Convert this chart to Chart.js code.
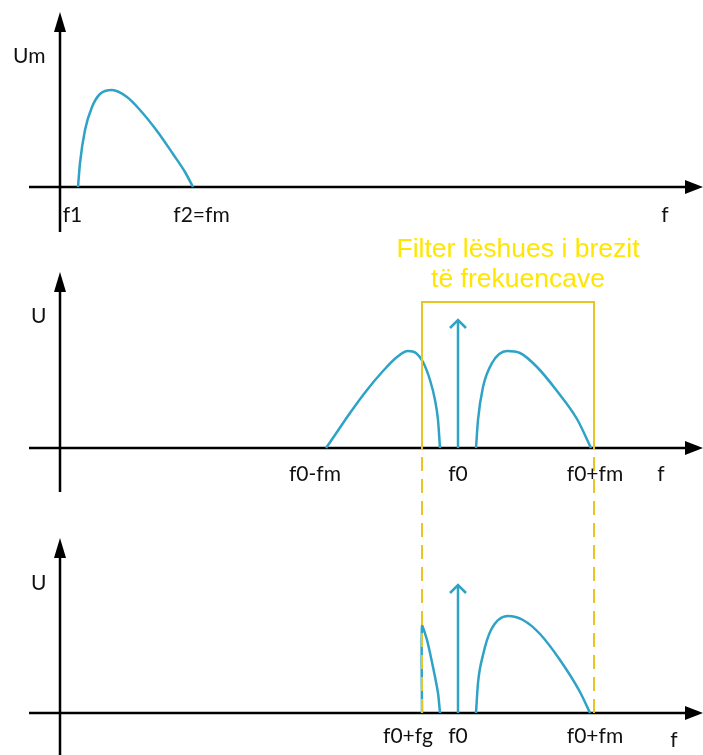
<!DOCTYPE html>
<html>
<head>
<meta charset="utf-8">
<script src="https://cdn.jsdelivr.net/npm/chart.js@4"></script>
<style>
  html, body { margin: 0; padding: 0; background: #fff; }
  canvas { display: block; }
</style>
</head>
<body>
<canvas id="spectrum" width="703" height="755"></canvas>
<script>
// frequencies in arbitrary units (0 = vertical axis), amplitudes in arbitrary units
const f1 = 18, fm = 133, f0 = 398, fg = 362;
const filterLo = 362, filterHi = 534, filterTop = 146;
const carrierU = 128;

// panel 1: baseband spectrum
const baseF = [18, 20, 25, 32, 40, 52, 67, 80, 97, 113, 125, 133];
const baseU = [0, 24, 57, 80, 93, 97, 90, 77, 56, 33, 15, 0];

// panel 2: double sideband (lower and upper)
const lsbF = [266, 277, 290, 307, 323, 337, 348, 356, 363, 370, 375, 378, 380];
const lsbU = [0, 16, 35, 58, 77, 91, 97, 95, 86, 68, 48, 28, 0];
const usbF = [416, 418, 423, 432, 447, 460, 477, 497, 517, 531];
const usbU = [0, 28, 61, 85, 97, 95, 81, 57, 29, 0];

// panel 3: after band-pass filter
const cutF = [362, 362, 367, 373, 378, 380];
const cutU = [0, 87, 73, 46, 20, 0];
const ssbF = [416, 418, 423, 431, 448, 463, 480, 500, 520, 530];
const ssbU = [0, 30, 58, 83, 97, 93, 79, 53, 21, 0];

// tick labels
const ticks1 = [['f1', f1], ['f2=fm', fm]];
const ticks2 = [['f0-fm', f0 - fm], ['f0', f0], ['f0+fm', f0 + fm]];
const ticks3 = [['f0+fg', fg], ['f0', f0], ['f0+fm', f0 + fm]];
const yLabels = ['Um', 'U', 'U'];
const titleLines = ['Filter lëshues i brezit', 'të frekuencave'];

const BLUE = '#2ea3c6';
const GOLD = '#e8c425';

const pts = (xs, ys) => xs.map((x, i) => ({ x: x, y: ys[i] }));

function curve(xs, ys, axis) {
  return {
    data: pts(xs, ys), yAxisID: axis,
    borderColor: BLUE, borderWidth: 2.5, pointRadius: 0,
    cubicInterpolationMode: 'monotone', fill: false
  };
}

function carrier(axis) {
  return {
    data: [{ x: f0, y: 0 }, { x: f0, y: carrierU }], yAxisID: axis,
    borderColor: BLUE, borderWidth: 2.5, pointRadius: 0, tension: 0
  };
}

const datasets = [
  {
    data: [{ x: filterLo, y: 0 }, { x: filterLo, y: filterTop }, { x: filterHi, y: filterTop }, { x: filterHi, y: 0 }],
    yAxisID: 'y2', borderColor: GOLD, borderWidth: 2, pointRadius: 0, tension: 0
  },
  {
    data: [{ x: filterLo, y: 0 }, { x: filterLo, y: 265 }], yAxisID: 'y3',
    borderColor: GOLD, borderWidth: 2, borderDash: [14, 8], pointRadius: 0, tension: 0
  },
  {
    data: [{ x: filterHi, y: 0 }, { x: filterHi, y: 265 }], yAxisID: 'y3',
    borderColor: GOLD, borderWidth: 2, borderDash: [14, 8], pointRadius: 0, tension: 0
  },
  curve(baseF, baseU, 'y1'),
  curve(lsbF, lsbU, 'y2'),
  curve(usbF, usbU, 'y2'),
  carrier('y2'),
  // the cut piece has a vertical edge, so plain tension instead of monotone
  Object.assign(curve(cutF, cutU, 'y3'), { cubicInterpolationMode: 'default', tension: 0.2 }),
  curve(ssbF, ssbU, 'y3'),
  carrier('y3')
];

// axis arrows, labels and the filter title
const panels = [
  { axis: 'y1', top: 175, bottom: -45, ticks: ticks1, tickDy: 35, fX: 605, fDy: 35, yLabX: 13, yLabY: 124 },
  { axis: 'y2', top: 176, bottom: -44, ticks: ticks2, tickDy: 33, fX: 601, fDy: 33, yLabX: 31, yLabY: 125 },
  { axis: 'y3', top: 175, bottom: -45, ticks: ticks3, tickDy: 30, fX: 614, fDy: 34, yLabX: 31, yLabY: 123 }
];
const tickShift = { 'f1': -5.5, 'f2=fm': 8.5, 'f0-fm': -10, 'f0': 0, 'f0+fm': 4, 'f0+fg': -14 };

const axesPlugin = {
  id: 'axesPlugin',
  beforeDatasetsDraw(chart) {
    const ctx = chart.ctx, xs = chart.scales.x;
    ctx.save();
    ctx.strokeStyle = '#000';
    ctx.fillStyle = '#000';
    ctx.lineWidth = 2.5;
    panels.forEach(p => {
      const ys = chart.scales[p.axis];
      const x0 = xs.getPixelForValue(0), y0 = ys.getPixelForValue(0);
      const yTop = ys.getPixelForValue(p.top), yBot = ys.getPixelForValue(p.bottom);
      const xL = xs.getPixelForValue(-31), xR = xs.getPixelForValue(643);
      ctx.beginPath();
      ctx.moveTo(x0, yBot); ctx.lineTo(x0, yTop + 15);
      ctx.moveTo(xL, y0); ctx.lineTo(xR - 14, y0);
      ctx.stroke();
      ctx.beginPath();
      ctx.moveTo(x0, yTop); ctx.lineTo(x0 - 6, yTop + 20); ctx.lineTo(x0 + 6, yTop + 20); ctx.closePath();
      ctx.fill();
      ctx.beginPath();
      ctx.moveTo(xR, y0); ctx.lineTo(xR - 18, y0 - 7); ctx.lineTo(xR - 18, y0 + 7); ctx.closePath();
      ctx.fill();
    });
    ctx.restore();
  },
  afterDatasetsDraw(chart) {
    const ctx = chart.ctx, xs = chart.scales.x;
    ctx.save();
    // carrier arrow heads
    ctx.strokeStyle = BLUE;
    ctx.lineWidth = 2.5;
    ['y2', 'y3'].forEach(a => {
      const ys = chart.scales[a];
      const x = xs.getPixelForValue(f0), y = ys.getPixelForValue(carrierU);
      ctx.beginPath();
      ctx.moveTo(x - 8, y + 8); ctx.lineTo(x, y); ctx.lineTo(x + 8, y + 8);
      ctx.stroke();
    });
    // labels
    ctx.fillStyle = '#111';
    ctx.font = '21px Lato, "Open Sans", sans-serif';
    ctx.textBaseline = 'alphabetic';
    panels.forEach((p, i) => {
      const ys = chart.scales[p.axis];
      const y0 = ys.getPixelForValue(0);
      ctx.textAlign = 'center';
      p.ticks.forEach(([t, v]) => {
        ctx.fillText(t, xs.getPixelForValue(v) + tickShift[t], y0 + p.tickDy);
      });
      ctx.fillText('f', xs.getPixelForValue(p.fX), y0 + p.fDy);
      ctx.textAlign = 'left';
      ctx.fillText(yLabels[i], p.yLabX, ys.getPixelForValue(p.yLabY));
    });
    // filter title
    ctx.fillStyle = '#ffe600';
    ctx.font = '26.5px "Liberation Sans", Arial, sans-serif';
    ctx.textAlign = 'center';
    const cx = xs.getPixelForValue((filterLo + filterHi) / 2) + 10;
    const y2 = chart.scales.y2;
    ctx.fillText(titleLines[0], cx, y2.getPixelForValue(filterTop + 45));
    ctx.fillText(titleLines[1], cx, y2.getPixelForValue(filterTop + 15));
    ctx.restore();
  }
};

new Chart(document.getElementById('spectrum'), {
  type: 'line',
  data: { datasets: datasets },
  options: {
    responsive: false,
    animation: false,
    devicePixelRatio: 1,
    layout: { padding: 0 },
    plugins: { legend: { display: false }, tooltip: { enabled: false } },
    scales: {
      x: { type: 'linear', min: -60, max: 643, display: false },
      y1: { type: 'linear', min: -568, max: 187, display: false },
      y2: { type: 'linear', min: -307, max: 448, display: false },
      y3: { type: 'linear', min: -42, max: 713, display: false }
    }
  },
  plugins: [axesPlugin]
});
</script>
</body>
</html>
